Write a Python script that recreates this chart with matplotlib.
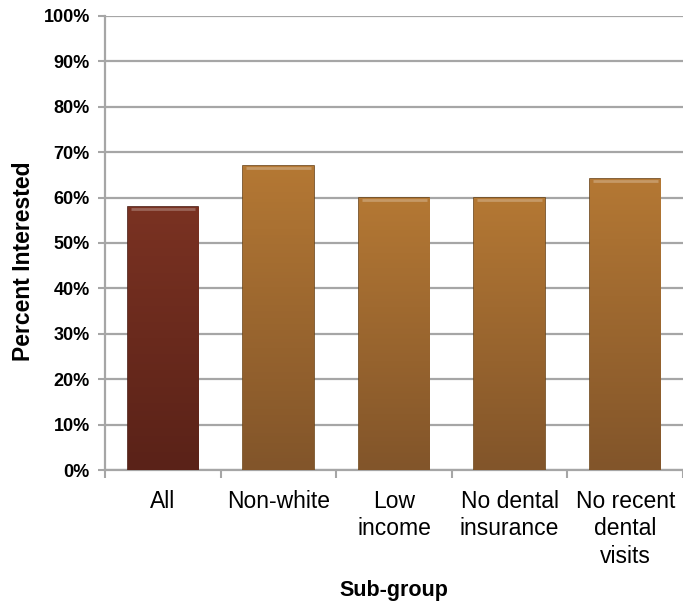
import matplotlib.pyplot as plt
import matplotlib.colors as mcolors
import numpy as np

plt.rcParams['font.family'] = ['Liberation Sans', 'DejaVu Sans']

# values (percent interested)
groups = ["All", "Non-white", "Low\nincome", "No dental\ninsurance", "No recent\ndental\nvisits"]
percent = [58, 67, 60, 60, 64]
top_colors = ["#7a3222", "#b47834", "#b47834", "#b47834", "#b47834"]
bottom_colors = ["#5a2218", "#82552a", "#82552a", "#82552a", "#82552a"]
edge_colors = ["#4a1a10", "#6e4618", "#6e4618", "#6e4618", "#6e4618"]
yticks = np.arange(0, 101, 10)

fig = plt.figure(figsize=(6.83, 6.09), dpi=100)
ax = fig.add_axes([0.154, 0.228, 0.846, 0.746])

x = np.arange(len(groups))
bars = ax.bar(x, percent, width=0.61, color=top_colors, edgecolor=edge_colors, linewidth=1.2, zorder=3)

# vertical shading inside each bar, clipped to the bar
for bar, c_top, c_bot in zip(bars, top_colors, bottom_colors):
    cmap = mcolors.LinearSegmentedColormap.from_list("g", [c_bot, c_top])
    x0, y0 = bar.get_x(), bar.get_y()
    w, h = bar.get_width(), bar.get_height()
    grad = np.linspace(0, 1, 100).reshape(-1, 1)
    im = ax.imshow(grad, cmap=cmap, origin="lower", aspect="auto",
                   extent=[x0, x0 + w, y0, y0 + h], zorder=3.5)
    im.set_clip_path(bar)
    # light bevel on top edge
    ax.plot([x0 + w * 0.04, x0 + w * 0.96], [y0 + h - 0.45, y0 + h - 0.45],
            color="white", alpha=0.25, linewidth=2, zorder=4, solid_capstyle="butt")

ax.set_ylim(0, 100)
ax.set_xlim(-0.5, len(groups) - 0.5)
ax.set_yticks(yticks)
ax.set_yticklabels([f"{v}%" for v in yticks], fontsize=13, fontweight="bold")
ax.yaxis.grid(True, color="#a6a6a6", linewidth=1.6, zorder=0)
ax.set_axisbelow(True)

# category labels centred, tick marks on boundaries
ax.set_xticks(x)
ax.set_xticklabels(groups, fontsize=16.5, linespacing=1.25)
ax.tick_params(axis="x", length=0, pad=14)
ax.set_xticks(np.arange(-0.5, len(groups), 1), minor=True)
ax.tick_params(axis="x", which="minor", length=6, width=1.5, color="#a6a6a6", direction="out")
ax.tick_params(axis="y", length=5, width=1.5, color="#a6a6a6", pad=6)

for side in ["top", "right"]:
    ax.spines[side].set_visible(False)
for side in ["left", "bottom"]:
    ax.spines[side].set_color("#a6a6a6")
    ax.spines[side].set_linewidth(1.6)

ax.set_ylabel("Percent Interested", fontsize=16.5, fontweight="bold", labelpad=6)
ax.yaxis.label.set_y(0.46)
ax.set_xlabel("Sub-group", fontsize=15.5, fontweight="bold", labelpad=9)

fig.savefig("out.png", dpi=100)
